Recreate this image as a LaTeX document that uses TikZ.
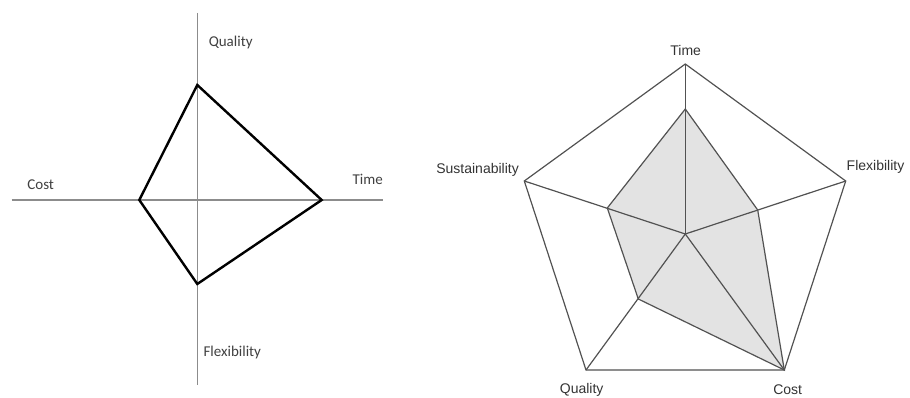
\documentclass[tikz,border=0pt]{standalone}
\usepackage{fontspec}
\setmainfont{Liberation Sans}
\newfontfamily\calfont{Carlito}
\begin{document}
\begin{tikzpicture}[x=1pt,y=-1pt,
  axisline/.style={draw=black!45, line width=1.1pt},
  quadline/.style={draw=black, line width=2.4pt, line join=miter},
  webline/.style={draw=black!68, line width=1.2pt, line join=miter},
  leftlabel/.style={font=\calfont\fontsize{15}{17}\selectfont, text=black!75, inner sep=0pt},
  rightlabel/.style={font=\fontsize{14}{16}\selectfont, text=black!80, inner sep=0pt}]
\useasboundingbox (0,0) rectangle (910,398);
% ---------- left diagram ----------
\coordinate (axT) at (197.3,13);
\coordinate (axB) at (197.3,385);
\coordinate (axL) at (11.7,200);
\coordinate (axR) at (383.3,200);
\draw[axisline] (axT) -- (axB);
\draw[axisline] (axL) -- (axR);
\coordinate (qT) at (197.3,85);
\coordinate (qR) at (321.7,200);
\coordinate (qB) at (197.3,284);
\coordinate (qL) at (139.3,200);
\draw[quadline] (qT) -- (qR) -- (qB) -- (qL) -- cycle;
\node[leftlabel] (lq) at (230.7,42.7) {Quality};
\node[leftlabel] (lt) at (367.7,179.3) {Time};
\node[leftlabel] (lc) at (40.7,184.3) {Cost};
\node[leftlabel] (lf) at (232.3,352.7) {Flexibility};
% ---------- right diagram ----------
\coordinate (c) at (685.3,234);
\coordinate (vT) at (685.3,64);
\coordinate (vF) at (845.7,181);
\coordinate (vC) at (784.3,370);
\coordinate (vQ) at (586,370);
\coordinate (vS) at (524.3,181);
\coordinate (iT) at (685.3,109);
\coordinate (iF) at (757.7,210);
\coordinate (iQ) at (638.3,299);
\coordinate (iS) at (607.3,208);
\fill[black!11] (iT) -- (iF) -- (vC) -- (iQ) -- (iS) -- cycle;
\draw[webline] (iT) -- (iF) -- (vC) -- (iQ) -- (iS) -- cycle;
\draw[webline] (vT) -- (vF) -- (vC) -- (vQ) -- (vS) -- cycle;
\draw[webline] (c) -- (vT);
\draw[webline] (c) -- (vF);
\draw[webline] (c) -- (vC);
\draw[webline] (c) -- (vQ);
\draw[webline] (c) -- (vS);
\node[rightlabel] (rt) at (685.7,50.7) {Time};
\node[rightlabel, anchor=west] (rf) at (846.5,167) {Flexibility};
\node[rightlabel, anchor=east] (rs) at (519,169.5) {Sustainability};
\node[rightlabel] (rq) at (581.7,390) {Quality};
\node[rightlabel] (rc) at (787.7,390) {Cost};
\end{tikzpicture}
\end{document}
